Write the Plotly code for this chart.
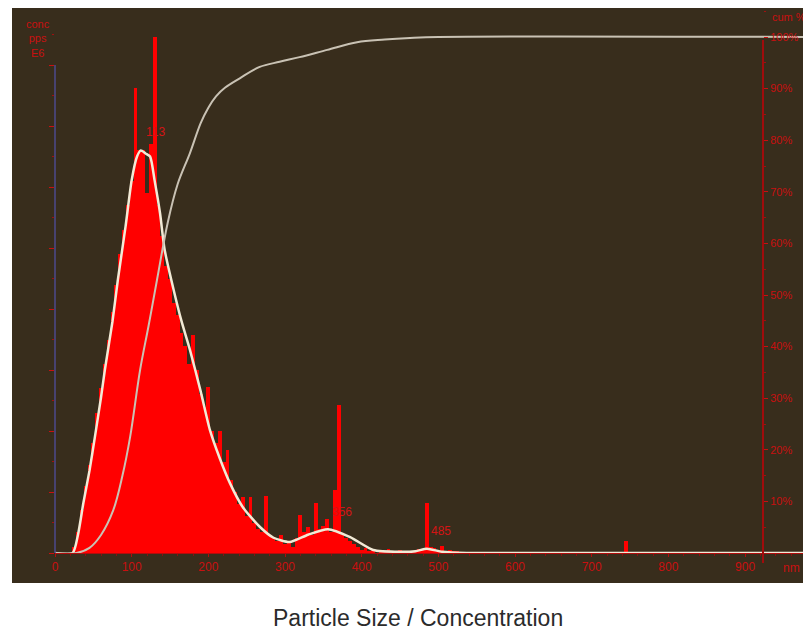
import plotly.graph_objects as go

# ---- data ----
bin_size_nm = [20, 25, 30, 35, 40, 45, 50, 55, 60, 65, 70, 75, 80, 85, 90, 95, 100, 105, 110, 115,
               120, 125, 130, 135, 140, 145, 150, 155, 160, 165, 170, 175, 180, 185, 190, 195, 200,
               205, 210, 215, 220, 225, 230, 235, 240, 245, 250, 255, 260, 265, 270, 275, 280, 285,
               290, 295, 300, 305, 310, 315, 320, 325, 330, 335, 340, 345, 350, 355, 360, 365, 370,
               375, 380, 385, 390, 395, 400, 405, 410, 415, 420, 425, 430, 435, 440, 445, 450, 455,
               460, 465, 470, 475, 480, 485, 490, 495, 500, 505, 510, 515, 520, 525, 530, 535, 745]
bin_conc = [0, 0.1, 0.35, 0.7, 1.1, 1.45, 1.8, 2.3, 2.7, 3.1, 3.5, 3.95, 4.4, 4.9, 5.3, 5.7, 6.1, 7.62, 6.6, 6.6,
            5.9, 6.7, 8.46, 5.7, 5.2, 4.7, 4.5, 4.1, 3.9, 3.6, 3.4, 3.1, 3.57, 3.0, 2.6, 2.4, 2.72,
            2.0, 1.8, 2.0, 1.5, 1.69, 1.2, 1.0, 0.8, 0.92, 0.6, 0.92, 0.5, 0.4, 0.35, 0.94, 0.3, 0.25,
            0.2, 0.3, 0.15, 0.2, 0.1, 0.25, 0.62, 0.35, 0.42, 0.3, 0.82, 0.4, 0.45, 0.55, 0.35, 1.03, 2.43,
            0.3, 0.25, 0.2, 0.15, 0.1, 0.05, 0.08, 0.03, 0.05, 0, 0.04, 0.02, 0.06, 0, 0.03, 0.05, 0,
            0.02, 0.04, 0.03, 0.06, 0.05, 0.82, 0.1, 0.08, 0.04, 0.12, 0.03, 0.05, 0.02, 0.03, 0.01, 0, 0.2]

fit_size_nm = [0, 23, 30, 37, 45, 52, 60, 65, 75, 82, 92, 100, 107, 112, 118, 124, 130, 137, 143, 155,
               165, 176, 190, 202, 215, 228, 245, 267, 285, 306, 330, 356, 385, 415, 450, 470, 485,
               505, 537, 986]
fit_conc = [0, 0, 0.3, 0.82, 1.35, 1.9, 2.55, 3.0, 3.8, 4.48, 5.35, 6.11, 6.5, 6.6, 6.55, 6.5, 6.1, 5.57,
            4.97, 4.3, 3.8, 3.33, 2.65, 2.02, 1.55, 1.15, 0.75, 0.43, 0.25, 0.18, 0.3, 0.39, 0.26, 0.05,
            0.02, 0.03, 0.07, 0.02, 0, 0]

cum_size_nm = [0, 28, 45, 60, 76, 88, 98, 111, 122, 133, 147, 160, 176, 190, 200, 210, 222, 241, 267, 293,
               319, 355, 394, 430, 463, 500, 986]
cum_pct = [0, 0, 1.0, 3.5, 8.3, 15, 22.5, 35.5, 44, 52.9, 64, 71.5, 77.5, 83.3, 86.3, 88.5, 90.2, 92, 94.2,
           95.2, 96.1, 97.5, 99, 99.5, 99.8, 100, 100]

peak_sizes = [113, 356, 485]
peak_label_conc = [6.9, 0.68, 0.36]

x_ticks = [0, 100, 200, 300, 400, 500, 600, 700, 800, 900]
pct_ticks = [10, 20, 30, 40, 50, 60, 70, 80, 90, 100]

# ---- styling ----
BG = "#382d1c"
RED = "#ff0000"
LABEL_RED = "#c81010"
OFF = 8  # page body margin
W, H = 811 - OFF, 632 - OFF
L, R, T, B = 55 - OFF, 0, 0, 79
PW, PH = W - L - R, H - T - B


def px_x(p):  # screenshot px -> paper
    return (p - OFF - L) / PW


def px_y(p):
    return (H - B - (p - OFF)) / PH


fig = go.Figure()
fig.add_trace(go.Bar(x=bin_size_nm, y=bin_conc, width=5, marker=dict(color=RED, line=dict(width=0)),
                     yaxis="y", showlegend=False, hoverinfo="skip"))
fig.add_trace(go.Scatter(x=fit_size_nm, y=fit_conc, mode="lines",
                         line=dict(color="#f2ead6", width=2.5, shape="spline", smoothing=0.6),
                         yaxis="y", showlegend=False))
fig.add_trace(go.Scatter(x=cum_size_nm, y=cum_pct, mode="lines",
                         line=dict(color="#c9c2b4", width=2, shape="spline", smoothing=1.0),
                         yaxis="y2", showlegend=False))

shapes = [
    dict(type="rect", xref="paper", yref="paper", x0=px_x(12), x1=px_x(815), y0=px_y(583), y1=px_y(8),
         fillcolor=BG, line=dict(width=0), layer="below"),
    dict(type="line", xref="paper", yref="paper", x0=0, x1=0, y0=0, y1=px_y(65),
         line=dict(color="#4d4a8c", width=1.5)),
    dict(type="line", xref="paper", yref="paper", x0=px_x(763), x1=px_x(763), y0=px_y(563), y1=px_y(40),
         line=dict(color="#a00c0c", width=2)),
]

annotations = [
    dict(text=str(s), x=s, y=c, xref="x", yref="y", showarrow=False, yanchor="middle", xshift=14,
         font=dict(family="Liberation Sans", size=12, color="#d41414"))
    for s, c in zip(peak_sizes, peak_label_conc)
] + [
    dict(text="Particle Size / Concentration", xref="paper", yref="paper", x=px_x(418), y=px_y(618),
         yanchor="middle", showarrow=False,
         font=dict(family="Liberation Sans", size=23, color="#2b2b2b")),
    dict(text="nm", xref="paper", yref="paper", x=px_x(802), y=px_y(568), yanchor="middle",
         showarrow=False, font=dict(family="Liberation Sans", size=12, color=LABEL_RED)),
    dict(text="cum %", xref="paper", yref="paper", x=px_x(770), y=px_y(17), xanchor="left",
         yanchor="middle", showarrow=False,
         font=dict(family="Liberation Sans", size=11, color=LABEL_RED)),
    dict(text="conc<br>pps<br>E6", xref="paper", yref="paper", x=px_x(38), y=px_y(38), showarrow=False,
         align="center", xanchor="center", yanchor="middle",
         font=dict(family="Liberation Sans", size=11, color=LABEL_RED)),
]

fig.update_layout(
    width=W, height=H,
    margin=dict(l=L, r=R, t=T, b=B, autoexpand=False),
    paper_bgcolor="white", plot_bgcolor=BG,
    bargap=0,
    shapes=shapes, annotations=annotations,
    xaxis=dict(range=[0, 986], tickvals=x_ticks, ticktext=[str(v) for v in x_ticks],
               showgrid=False, zeroline=False, showline=True, linecolor="#b00c0c", linewidth=1,
               ticks="outside", ticklen=3, tickcolor="#b00c0c",
               tickfont=dict(family="Liberation Sans", size=12, color=LABEL_RED),
               minor=dict(ticks="outside", dtick=20, ticklen=2, tickcolor="#8a1010"),
               fixedrange=True),
    yaxis=dict(range=[0, PH / 61.0], dtick=1, showticklabels=False, showgrid=False, zeroline=False,
               showline=False, ticks="outside", ticklen=5, tickcolor="#c81010",
               minor=dict(ticks="outside", dtick=0.5, ticklen=2, tickcolor="#a01010")),
    yaxis2=dict(range=[0, PH / 5.16], overlaying="y", side="right", anchor="free",
                position=px_x(763), tickvals=pct_ticks, ticktext=[f"{v}%" for v in pct_ticks],
                showgrid=False, zeroline=False, showline=False, ticks="outside", ticklen=4,
                tickcolor="#c81010", automargin=False,
                tickfont=dict(family="Liberation Sans", size=11, color=LABEL_RED),
                minor=dict(ticks="outside", dtick=5, ticklen=2, tickcolor="#a01010")),
)

fig.write_html("out.html")
